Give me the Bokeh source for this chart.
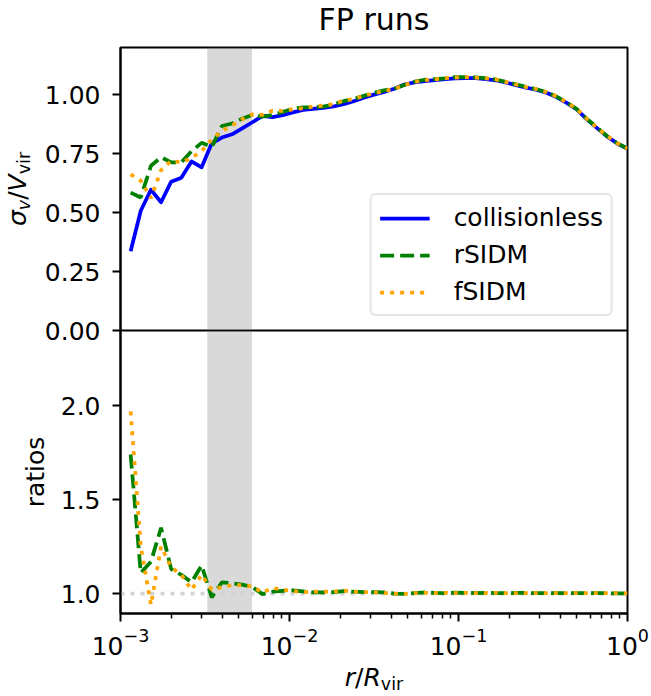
import numpy as np
from bokeh.plotting import figure
from bokeh.layouts import column
from bokeh.core.properties import value
from bokeh.models import (Range1d, FixedTicker, BoxAnnotation, Span,
                          NumeralTickFormatter, LogTickFormatter)
from bokeh.embed import file_html
from bokeh.resources import INLINE

# ---------------- data ----------------
r_over_rvir = [0.001148, 0.001318, 0.001514, 0.001738, 0.001995, 0.002291, 0.002630, 0.003020,
               0.003467, 0.003981, 0.004571, 0.005248, 0.006026, 0.006918, 0.007943, 0.009120,
               0.01047, 0.01202, 0.01380, 0.01585, 0.01820, 0.02089, 0.02399, 0.02754,
               0.03162, 0.03631, 0.04169, 0.04786, 0.05495, 0.06310, 0.07244, 0.08318,
               0.09550, 0.1096, 0.1259, 0.1445, 0.1660, 0.1905, 0.2188, 0.2512,
               0.2884, 0.3311, 0.3802, 0.4365, 0.5012, 0.5754, 0.6607, 0.7586, 0.8710, 1.0]

sigma_collisionless = [0.336, 0.508, 0.597, 0.544, 0.631, 0.648, 0.717, 0.692, 0.794, 0.818,
                       0.832, 0.857, 0.883, 0.910, 0.905, 0.913, 0.925, 0.935, 0.940, 0.944,
                       0.950, 0.960, 0.972, 0.987, 1.000, 1.012, 1.025, 1.043, 1.052, 1.057,
                       1.062, 1.066, 1.069, 1.070, 1.070, 1.066, 1.061, 1.052, 1.040, 1.030,
                       1.021, 1.008, 0.990, 0.965, 0.937, 0.895, 0.858, 0.822, 0.793, 0.770]

ratio_rsidm = [1.74, 1.11, 1.17, 1.35, 1.13, 1.10, 1.06, 1.15, 0.98, 1.06,
               1.055, 1.048, 1.035, 0.997, 1.010, 1.015, 1.017, 1.012, 1.007, 1.006,
               1.008, 1.013, 1.010, 1.008, 1.008, 1.006, 1.000, 0.998, 1.003, 1.006,
               1.004, 1.003, 1.005, 1.004, 1.003, 1.004, 1.003, 1.002, 1.004, 1.003,
               1.002, 1.003, 1.002, 1.003, 1.002, 1.002, 1.003, 1.002, 1.001, 1.002]

ratio_fsidm = [1.97, 1.25, 0.94, 1.25, 1.14, 1.10, 1.02, 1.10, 1.02, 1.035,
               1.045, 1.045, 1.038, 1.005, 1.030, 1.020, 1.014, 1.008, 1.010, 1.010,
               1.010, 1.016, 1.010, 1.008, 1.006, 1.003, 1.000, 0.998, 1.002, 1.004,
               1.003, 1.004, 1.003, 1.004, 1.002, 1.003, 1.004, 1.002, 1.003, 1.002,
               1.003, 1.002, 1.003, 1.002, 1.003, 1.002, 1.002, 1.003, 1.002, 1.001]

sigma_rsidm = list(np.array(sigma_collisionless) * np.array(ratio_rsidm))
sigma_fsidm = list(np.array(sigma_collisionless) * np.array(ratio_fsidm))

band = (3.26e-3, 6.0e-3)
x_major = [1e-3, 1e-2, 1e-1, 1.0]
x_minor = [m * d for d in (1e-3, 1e-2, 1e-1) for m in range(2, 10)]
top_yticks = [0.0, 0.25, 0.5, 0.75, 1.0]
bot_yticks = [1.0, 1.5, 2.0]

FONT = "DejaVu Sans"
FS = "25px"
LW = 3.75
W, H = 651, 696
OVERLAP = 20          # p1's lower border that p2 overlaps (keeps the "0.00" label whole)
BASE_SHIFT = 0.42     # em: compensation so that the glyph baseline lands on the anchor


def style_axes(p):
    p.outline_line_color = "black"
    p.outline_line_width = 2
    p.border_fill_color = None
    p.xgrid.visible = False
    p.ygrid.visible = False
    for ax in list(p.xaxis) + list(p.yaxis):
        ax.axis_line_width = 2
        ax.major_tick_line_width = 2
        ax.minor_tick_line_width = 1.5
        ax.major_tick_out = 8
        ax.major_tick_in = 0
        ax.minor_tick_out = 5
        ax.minor_tick_in = 0
        ax.major_label_text_font = FONT
        ax.major_label_text_font_size = FS
        ax.major_label_text_color = "black"
    p.yaxis.major_label_standoff = 12
    p.yaxis.minor_tick_line_color = None


# ---------------- transparent text layer (title and axis labels), drawn first ----------------
ov = figure(width=W, height=H, x_range=Range1d(0, W), y_range=Range1d(0, H),
            output_backend="svg", toolbar_location=None,
            min_border_left=0, min_border_right=0, min_border_top=0, min_border_bottom=0,
            x_axis_location=None, y_axis_location=None)
if hasattr(ov, "frame_align"):
    ov.frame_align = False
ov.margin = (0, 0, -H, 0)
ov.xgrid.visible = False
ov.ygrid.visible = False
ov.outline_line_color = None
ov.background_fill_color = None
ov.border_fill_color = None


def txt(x, y_canvas, s, size=25.0, style="normal", rotated=False, align="left"):
    sh = BASE_SHIFT * size
    if rotated:
        x, ang = x - sh, np.pi / 2
    else:
        y_canvas, ang = y_canvas - sh, 0.0
    ov.text(x=[x], y=[H - y_canvas], text=[s], text_font=value(FONT),
            text_font_size=value(f"{size}px"), text_font_style=style, angle=ang,
            text_align=align, text_baseline="alphabetic", text_color="black")


# title
txt(373.5, 32, "FP runs", size=30.0, align="center")

# sigma_v / V_vir  (rotated, reading upward), centred on top panel
em, es = 25.0, 17.5
pieces = [("σ", 0.634 * em, em, "italic", 0), ("v", 0.592 * es, es, "italic", 4),
          ("/", 0.337 * em, em, "normal", 0), ("V", 0.684 * em, em, "italic", 0),
          ("vir", 1.281 * es, es, "normal", 4)]
total = sum(p[1] for p in pieces)
yc = 188.5 + total / 2.0
xb = 27.0
for s, w, size, style, drop in pieces:
    txt(xb + drop, yc, s, size=size, style=style, rotated=True)
    yc -= w

# ratios
txt(45.0, 471.5, "ratios", rotated=True, align="center")

# r / R_vir
xpieces = [("r", 0.411 * em, em, "italic", 0), ("/", 0.337 * em, em, "normal", 0),
           ("R", 0.695 * em, em, "italic", 0), ("vir", 1.281 * es, es, "normal", 4)]
xt = sum(p[1] for p in xpieces)
xc = 373.5 - xt / 2.0
for s, w, size, style, drop in xpieces:
    txt(xc, 687 + drop, s, size=size, style=style)
    xc += w

# ---------------- top panel ----------------
p1 = figure(width=W, height=330 + OVERLAP, x_axis_type="log",
            x_range=Range1d(1e-3, 1.0), y_range=Range1d(0.0, 1.2),
            output_backend="svg", toolbar_location=None,
            min_border_left=120, min_border_right=24, min_border_top=47,
            min_border_bottom=OVERLAP)
p1.xaxis.visible = False
style_axes(p1)
p1.yaxis.ticker = FixedTicker(ticks=top_yticks)
p1.yaxis.formatter = NumeralTickFormatter(format="0.00")

p1.add_layout(BoxAnnotation(left=band[0], right=band[1], fill_color="gray", fill_alpha=0.3,
                            line_color=None, level="underlay"))
p1.line(r_over_rvir, sigma_collisionless, line_color="blue", line_width=LW, line_join="round",
        legend_label="collisionless")
p1.line(r_over_rvir, sigma_rsidm, line_color="green", line_width=LW, line_dash="14 6",
        legend_label="rSIDM")
p1.line(r_over_rvir, sigma_fsidm, line_color="orange", line_width=LW, line_dash="4 6",
        legend_label="fSIDM")

lg = p1.legend[0]
lg.location = "bottom_right"
lg.margin = 14
lg.padding = 8
lg.spacing = 8
lg.label_height = 28
lg.glyph_height = 28
lg.glyph_width = 50
lg.label_standoff = 24
lg.label_text_font = FONT
lg.label_text_font_size = FS
lg.label_text_color = "black"
lg.border_line_color = "#cccccc"
lg.border_line_width = 2
lg.border_radius = 6
lg.background_fill_alpha = 0.8

# ---------------- bottom panel ----------------
p2 = figure(width=W, height=366, x_axis_type="log",
            x_range=Range1d(1e-3, 1.0), y_range=Range1d(0.894, 2.40),
            output_backend="svg", toolbar_location=None,
            min_border_left=120, min_border_right=24, min_border_top=0, min_border_bottom=83)
p2.margin = (-OVERLAP, 0, 0, 0)
style_axes(p2)
p2.xaxis.ticker = FixedTicker(ticks=x_major, minor_ticks=x_minor)
p2.xaxis.formatter = LogTickFormatter()
p2.xaxis.major_label_standoff = 6
p2.yaxis.ticker = FixedTicker(ticks=bot_yticks)
p2.yaxis.formatter = NumeralTickFormatter(format="0.0")

p2.add_layout(BoxAnnotation(left=band[0], right=band[1], fill_color="gray", fill_alpha=0.3,
                            line_color=None, level="underlay"))
p2.add_layout(Span(location=1.0, dimension="width", line_color="lightgray", line_width=LW,
                   line_dash="4 6", level="underlay"))
p2.line(r_over_rvir, ratio_rsidm, line_color="green", line_width=LW, line_dash="14 6")
p2.line(r_over_rvir, ratio_fsidm, line_color="orange", line_width=LW, line_dash="4 6")

layout = column(ov, p1, p2, spacing=0)
open("out.html", "w").write(file_html(layout, INLINE))
